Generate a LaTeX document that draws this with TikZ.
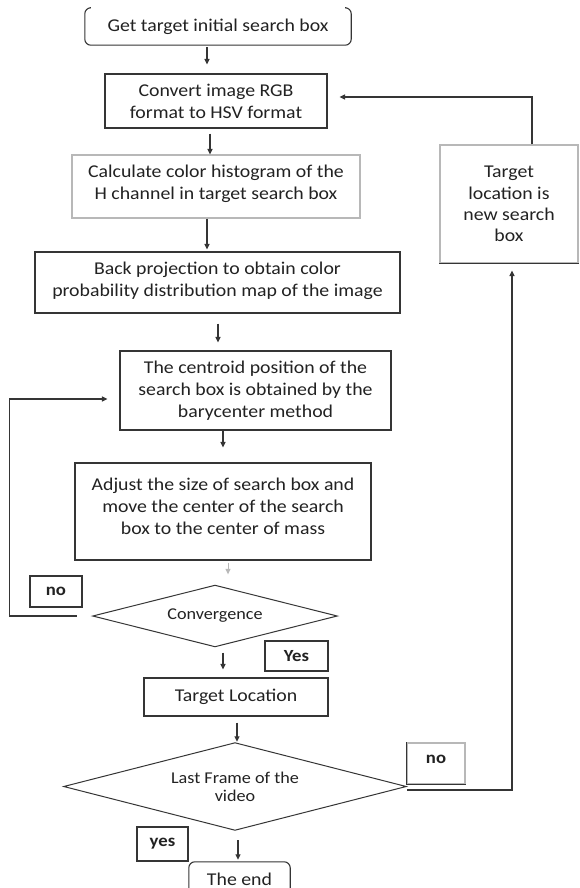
\documentclass[tikz,border=0pt]{standalone}
\usepackage{fontspec}
\setmainfont{Carlito}[FakeStretch=1.1]
\usetikzlibrary{arrows.meta}
\definecolor{ln}{HTML}{353535}
\definecolor{lt}{HTML}{B8B8B8}
\definecolor{tx}{HTML}{222222}
\begin{document}
\begin{tikzpicture}[x=1pt,y=-1pt,
  font=\fontsize{18}{22}\selectfont, text=tx,
  box/.style={draw=ln, line width=1.1pt, align=center, inner sep=0pt},
  arr/.style={draw=ln, line width=1.1pt, -{Triangle[length=5.5pt,width=5pt]}},
  tag/.style={draw=ln, line width=1.1pt, font=\fontsize{17}{20}\selectfont\bfseries, inner sep=0pt},
  dec/.style={inner sep=0pt, align=center, font=\fontsize{16.5}{18}\selectfont},
  decline/.style={draw=ln, line width=1pt}]
\useasboundingbox (0,0) rectangle (579,888);
\fill[white] (0,0) rectangle (579,888);

% start (open-top rounded box)
\node[minimum width=266pt, minimum height=37pt, inner sep=0pt] (start) at (218,26.5) {Get target initial search box\hspace{17pt}};
\draw[ln, line width=1.1pt, rounded corners=6pt] ([xshift=5pt]start.north west) -- (start.north west) -- (start.south west) -- (start.south east) -- (start.north east) -- ([xshift=-5pt]start.north east);

\node[box, minimum width=222pt, minimum height=54pt] (rgb) at (216,101) {Convert image RGB\\format to HSV format};
\node[box, draw=lt, minimum width=288pt, minimum height=63pt, text depth=8pt] (hist) at (216,186.5) {Calculate color histogram of the\\H channel in target search box};
\node[box, minimum width=365pt, minimum height=61pt, text depth=7pt] (back) at (217.5,282.5) {Back projection to obtain color\\probability distribution map of the image};
\node[box, minimum width=271pt, minimum height=79pt] (cent) at (255.5,390.5) {The centroid position of the\\search box is obtained by the\\barycenter method};
\node[box, minimum width=296pt, minimum height=97pt, text depth=10pt] (adj) at (223,511.5) {Adjust the size of search box and\\move the center of the search\\box to the center of mass};
\node[box, draw=lt, minimum width=138pt, minimum height=118pt, font=\fontsize{18}{21.3}\selectfont] (newb) at (509,204) {Target\\location is\\new search\\box};
\draw[ln, line width=1.1pt] (newb.south west) -- (newb.south east);

\node[dec, minimum width=244pt, minimum height=61pt] (cvg) at (215,616) {Convergence};
\draw[decline] (cvg.west) -- (cvg.north) -- (cvg.east) -- (cvg.south) -- cycle;
\node[tag, minimum width=52pt, minimum height=31pt] (no1) at (56,591.5) {no\hspace{9pt}};
\node[tag, minimum width=63pt, minimum height=30pt] (yes1) at (296.5,656) {Yes\hspace{12pt}};
\node[box, minimum width=184pt, minimum height=38pt] (tgt) at (236,697) {Target Location};
\node[dec, minimum width=342pt, minimum height=87pt] (last) at (235,786.5) {Last Frame of the\\video};
\draw[decline] (last.west) -- (last.north) -- (last.east) -- (last.south) -- cycle;
\node[tag, draw=lt, minimum width=58pt, minimum height=41pt, text depth=8pt] (no2) at (436,763.5) {no\hspace{15pt}};
\draw[ln, line width=1.1pt] (no2.north west) -- (no2.south west) -- (no2.south east);
\node[tag, minimum width=51pt, minimum height=34pt] (yes2) at (162.5,844) {yes};
\node[minimum width=101pt, minimum height=34pt, inner sep=0pt] (endn) at (239.5,879) {The end};
\draw[ln, line width=1.1pt, rounded corners=6pt] (endn.south west) -- (endn.north west) -- (endn.north east) -- (endn.south east);

% main flow
\draw[arr] ([xshift=-11pt,yshift=-2pt]start.south) -- ([xshift=-9pt,yshift=9pt]rgb.north);
\draw[arr] ([xshift=-6pt,yshift=-5pt]rgb.south) -- ([xshift=-6pt]hist.north);
\draw[arr] ([xshift=-9pt]hist.south) -- ([xshift=-10.5pt,yshift=2pt]back.north);
\draw[arr] ([xshift=0.5pt,yshift=-10pt]back.south) -- ([xshift=-37.5pt,yshift=8pt]cent.north);
\draw[arr] ([xshift=-32.5pt]cent.south) -- ([yshift=15pt]adj.north);
\draw[arr, draw=lt, line width=0.8pt] ([xshift=5pt,yshift=-2pt]adj.south) -- ([xshift=13pt,yshift=11pt]cvg.north);
\draw[arr] ([xshift=8pt,yshift=-6pt]cvg.south) -- ([xshift=-13pt,yshift=8pt]tgt.north);
\draw[arr] ([xshift=1pt,yshift=-6pt]tgt.south) -- ([xshift=2pt,yshift=1pt]last.north);
\draw[arr] ([xshift=3pt,yshift=-10pt]last.south) -- ([xshift=-1.5pt,yshift=2pt]endn.north);

% loops
\draw[arr] ([xshift=-16pt]cvg.west) -- ++(-67,0) |- ([xshift=-12pt,yshift=-8.5pt]cent.west);
\draw[arr] ([xshift=1pt,yshift=-3.5pt]last.east) -| ([xshift=3pt,yshift=-7pt]newb.south);
\draw[arr] ([xshift=23pt]newb.north) |- ([xshift=12pt,yshift=4pt]rgb.east);
\end{tikzpicture}
\end{document}
